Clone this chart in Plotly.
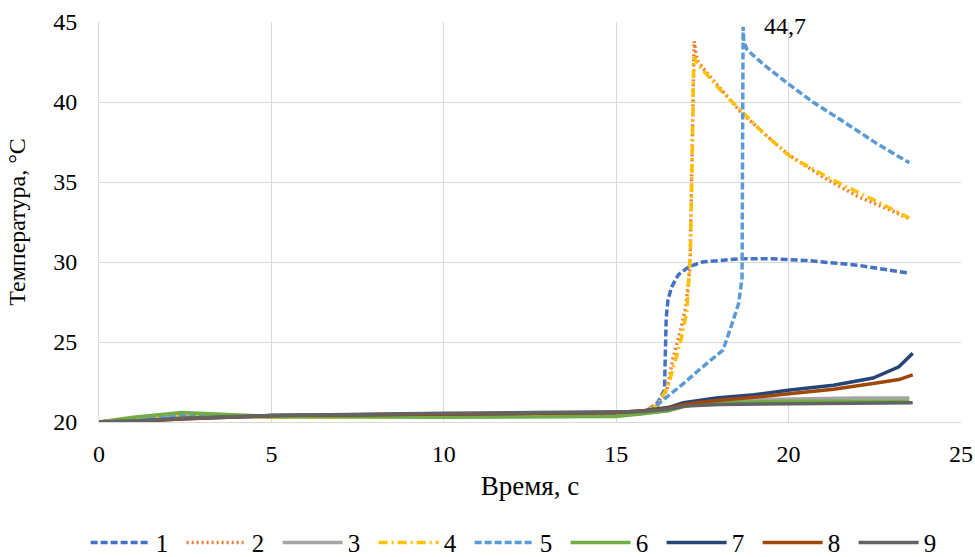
import plotly.graph_objects as go

# ---- data ----
x1 = [0, 1, 2.5, 5, 10, 13, 15, 15.8, 16.2, 16.4, 16.45, 16.5, 16.6, 16.8, 17.1, 17.5, 18.6, 19.5, 20.5, 22, 23.5]
y1 = [20, 20.2, 20.4, 20.35, 20.4, 20.45, 20.5, 20.6, 21.2, 22, 26.5, 27.6, 28.4, 29.2, 29.7, 30.0, 30.2, 30.2, 30.1, 29.8, 29.3]

x2 = [0, 1, 2.5, 5, 10, 15, 15.8, 16.2, 16.47, 16.65, 16.85, 17.02, 17.14, 17.22, 17.26, 17.35, 17.6, 18.2, 18.6, 19.2, 20, 21, 22, 23, 23.5]
y2 = [20, 20.2, 20.4, 20.3, 20.35, 20.4, 20.6, 21, 22, 24, 25.6, 27.2, 29.7, 38, 43.8, 42.6, 41.9, 40.4, 39.4, 38.2, 36.7, 35.3, 34.1, 33.2, 32.7]

x3 = [0, 1, 2.5, 5, 10, 15, 15.7, 16.5, 17, 18, 19, 20, 22, 23.5]
y3 = [20, 20.15, 20.4, 20.3, 20.35, 20.4, 20.55, 20.7, 21.0, 21.3, 21.4, 21.45, 21.5, 21.5]

x4 = [0, 1, 2.5, 5, 10, 15, 15.8, 16.2, 16.5, 16.7, 16.9, 17.05, 17.15, 17.2, 17.25, 17.43, 18.0, 18.6, 19.3, 20.04, 21.3, 22.45, 23.5]
y4 = [20, 20.2, 20.45, 20.3, 20.35, 20.4, 20.6, 21.1, 22.2, 23.8, 25.3, 27.0, 30.5, 36, 42.8, 42.2, 40.8, 39.5, 38.0, 36.6, 35.1, 33.9, 32.75]

x5 = [0, 1, 2.5, 5, 10, 15, 15.7, 16.0, 16.5, 16.95, 17.4, 18.1, 18.4, 18.55, 18.65, 18.68, 18.7, 18.8, 19.3, 19.95, 20.7, 21.5, 22.56, 23.5]
y5 = [20, 20.2, 20.45, 20.35, 20.4, 20.45, 20.5, 20.75, 21.6, 22.4, 23.25, 24.5, 26.4, 27.4, 29, 44.7, 43.8, 43.25, 42.3, 41.2, 40, 38.9, 37.4, 36.2]

x6 = [0, 1, 2.4, 5, 10, 15, 15.7, 16.5, 17, 18, 19, 20, 22, 23.5]
y6 = [20, 20.3, 20.6, 20.35, 20.3, 20.35, 20.5, 20.7, 21.0, 21.2, 21.25, 21.3, 21.3, 21.3]

x7 = [0, 1, 2.5, 5, 10, 13, 15, 15.8, 16.5, 16.95, 17.9, 19, 20.04, 21.3, 22.45, 23.2, 23.6]
y7 = [20, 20.05, 20.2, 20.4, 20.5, 20.55, 20.6, 20.7, 20.9, 21.2, 21.5, 21.7, 22.0, 22.3, 22.75, 23.45, 24.3]

x8 = [0, 1, 2.5, 5, 10, 13, 15, 15.8, 16.5, 16.95, 17.9, 19, 20.04, 21.3, 22.45, 23.2, 23.6]
y8 = [20, 20.05, 20.2, 20.4, 20.5, 20.55, 20.6, 20.7, 20.85, 21.1, 21.35, 21.55, 21.8, 22.05, 22.4, 22.65, 22.95]

x9 = [0, 1, 2.5, 5, 10, 13, 15, 15.8, 16.5, 17, 18, 20, 22, 23.6]
y9 = [20, 20.05, 20.25, 20.4, 20.55, 20.6, 20.6, 20.65, 20.8, 21.0, 21.1, 21.15, 21.2, 21.2]

names = ["1", "2", "3", "4", "5", "6", "7", "8", "9"]
xs = [x1, x2, x3, x4, x5, x6, x7, x8, x9]
ys = [y1, y2, y3, y4, y5, y6, y7, y8, y9]
colors = ["#4472C4", "#ED7D31", "#A5A5A5", "#FFC000", "#5B9BD5",
          "#70AD47", "#264478", "#9E480E", "#636363"]
dashes = ["7px,3px", "2px,3px", "solid", "9px,4px,2px,4px", "7px,3px",
          "solid", "solid", "solid", "solid"]

x_ticks = [0, 5, 10, 15, 20, 25]
y_ticks = [20, 25, 30, 35, 40, 45]

peak_label = "44,7"
peak_x = 19.9
peak_y = 44.75

FONT = "Liberation Serif, Times New Roman, serif"

fig = go.Figure()
for n, x, y, c, d in zip(names, xs, ys, colors, dashes):
    fig.add_trace(go.Scatter(x=x, y=y, mode="lines", name=n,
                             line=dict(color=c, width=3.5, dash=d)))

fig.add_annotation(x=peak_x, y=peak_y, text=peak_label, showarrow=False,
                   font=dict(family=FONT, size=24, color="#000000"))

fig.update_layout(
    width=975, height=557,
    paper_bgcolor="white", plot_bgcolor="white",
    margin=dict(l=99, r=14, t=22, b=135, autoexpand=False),
    font=dict(family=FONT, size=24, color="#000000"),
    showlegend=True,
    legend=dict(orientation="h", x=-0.0155, xanchor="left", y=-0.302, yanchor="middle",
                font=dict(family=FONT, size=25), itemwidth=60,
                entrywidth=21, tracegroupgap=0),
    xaxis=dict(range=[0, 25], tickvals=x_ticks, showgrid=True, gridcolor="#d9d9d9",
               gridwidth=1, zeroline=False, showline=True, linecolor="#d9d9d9",
               ticks="", tickfont=dict(size=24), automargin=False,
               ticklabelstandoff=10,
               title=dict(text="Время, с", font=dict(size=27), standoff=10)),
    yaxis=dict(range=[20, 45], tickvals=y_ticks, showgrid=True, gridcolor="#d9d9d9",
               gridwidth=1, zeroline=False, showline=True, linecolor="#d9d9d9",
               ticks="", tickfont=dict(size=24), automargin=False,
               ticklabelstandoff=16,
               title=dict(text="Температура, °С", font=dict(size=24), standoff=20)),
)

fig.write_html("out.html", post_script="document.body.style.margin='0';",
               config={"displayModeBar": False})
